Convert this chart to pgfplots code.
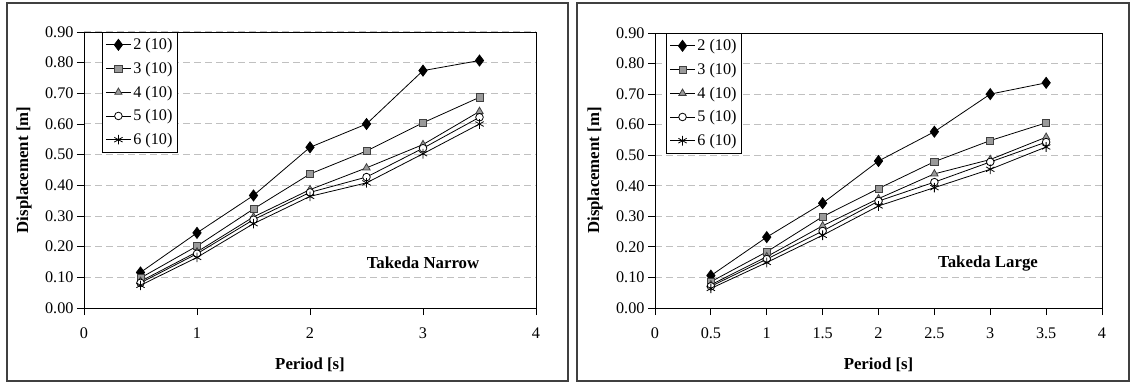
\documentclass[border=0pt]{standalone}
\usepackage{fontspec}
\setmainfont{Liberation Serif}
\usepackage{pgfplots}
\pgfplotsset{compat=1.18}
\newcommand\fs{\fontsize{16.2bp}{19bp}\selectfont}
\newcommand\fb{\fontsize{16.8bp}{19bp}\selectfont\bfseries}
\definecolor{mkgray}{HTML}{9A9A9A}
\definecolor{gridgray}{HTML}{C0C0C0}
\pgfplotsset{
  panel/.style={
    scale only axis,
    xmin=0, xmax=4, ymin=0, ymax=0.9,
    ytick={0,0.1,...,0.9},
    yticklabel style={/pgf/number format/.cd, fixed, fixed zerofill, precision=2, assume math mode=true},
    xticklabel style={yshift=-9bp},
    tick label style={font=\fs},
    label style={font=\fb},
    tick align=outside, major tick length=7bp,
    xtick pos=left, ytick pos=left,
    ymajorgrids, grid style={gridgray, line width=1bp, dash pattern=on 7bp off 4bp},
    axis line style={black, line width=0.9bp},
    major tick style={black, line width=0.9bp},
    ylabel={Displacement [m]}, xlabel={Period [s]},
    legend cell align=left,
    legend style={font=\fs, draw=black, line width=0.9bp, anchor=north west, row sep=7bp, inner ysep=4bp},
    legend image code/.code={\draw[mark repeat=2,mark phase=2] plot coordinates {(0bp,0bp)(12.5bp,0bp)(25bp,0bp)};},
  },
  s2/.style={black, line width=0.8bp, mark=diamond*, mark size=5.5bp, mark options={fill=black, solid}},
  s3/.style={black, line width=0.8bp, mark=square*, mark size=3.6bp, mark options={fill=mkgray, draw=black!75, solid}},
  s4/.style={black, line width=0.8bp, mark=triangle*, mark size=4.2bp, mark options={fill=mkgray, draw=black!75, solid}},
  s5/.style={black, line width=0.8bp, mark=*, mark size=3.8bp, mark options={fill=white, draw=black, solid}},
  s6/.style={black, line width=0.8bp, mark=asterisk, mark size=4.8bp, mark options={solid}},
}
\begin{document}
\begin{tikzpicture}[x=1bp,y=1bp]
\useasboundingbox (0,0) rectangle (1131,383);
\draw[black!75, line width=1.2bp] (7,2) rectangle (568,380);
\draw[black!75, line width=1.2bp] (577,2) rectangle (1129,380);
\begin{axis}[panel, at={(84bp,75bp)}, width=452bp, height=276bp,
  xtick={0,1,2,3,4}, xticklabels={0,1,2,3,4},
  x label style={at={(axis description cs:0.5,-0.2065)}, anchor=center},
  y label style={at={(axis description cs:-0.1327,0.5)}, anchor=center},
  legend style={at={(0.04,1)}}]
\addplot[s2] coordinates {(0.5,0.116)(1,0.245)(1.5,0.367)(2,0.524)(2.5,0.600)(3,0.774)(3.5,0.807)};
\addlegendentry{2 (10)}
\addplot[s3] coordinates {(0.5,0.098)(1,0.202)(1.5,0.323)(2,0.437)(2.5,0.512)(3,0.604)(3.5,0.687)};
\addlegendentry{3 (10)}
\addplot[s4] coordinates {(0.5,0.087)(1,0.183)(1.5,0.297)(2,0.386)(2.5,0.457)(3,0.533)(3.5,0.641)};
\addlegendentry{4 (10)}
\addplot[s5] coordinates {(0.5,0.082)(1,0.177)(1.5,0.288)(2,0.377)(2.5,0.427)(3,0.521)(3.5,0.622)};
\addlegendentry{5 (10)}
\addplot[s6] coordinates {(0.5,0.074)(1,0.165)(1.5,0.275)(2,0.364)(2.5,0.408)(3,0.503)(3.5,0.600)};
\addlegendentry{6 (10)}
\node[font=\fb] at (axis cs:3.0,0.147) {Takeda Narrow};
\end{axis}
\begin{axis}[panel, at={(655bp,75bp)}, width=447bp, height=275bp,
  xtick={0,0.5,1,1.5,2,2.5,3,3.5,4}, xticklabels={0,0.5,1,1.5,2,2.5,3,3.5,4},
  x label style={at={(axis description cs:0.5,-0.2073)}, anchor=center},
  y label style={at={(axis description cs:-0.1342,0.5)}, anchor=center},
  legend style={at={(0.025,1)}}]
\addplot[s2] coordinates {(0.5,0.106)(1,0.232)(1.5,0.343)(2,0.481)(2.5,0.577)(3,0.700)(3.5,0.737)};
\addlegendentry{2 (10)}
\addplot[s3] coordinates {(0.5,0.086)(1,0.184)(1.5,0.299)(2,0.391)(2.5,0.479)(3,0.548)(3.5,0.606)};
\addlegendentry{3 (10)}
\addplot[s4] coordinates {(0.5,0.076)(1,0.168)(1.5,0.269)(2,0.358)(2.5,0.439)(3,0.486)(3.5,0.559)};
\addlegendentry{4 (10)}
\addplot[s5] coordinates {(0.5,0.071)(1,0.160)(1.5,0.252)(2,0.350)(2.5,0.412)(3,0.478)(3.5,0.543)};
\addlegendentry{5 (10)}
\addplot[s6] coordinates {(0.5,0.064)(1,0.149)(1.5,0.238)(2,0.334)(2.5,0.394)(3,0.454)(3.5,0.527)};
\addlegendentry{6 (10)}
\node[font=\fb] at (axis cs:2.98,0.147) {Takeda Large};
\end{axis}
\end{tikzpicture}
\end{document}
